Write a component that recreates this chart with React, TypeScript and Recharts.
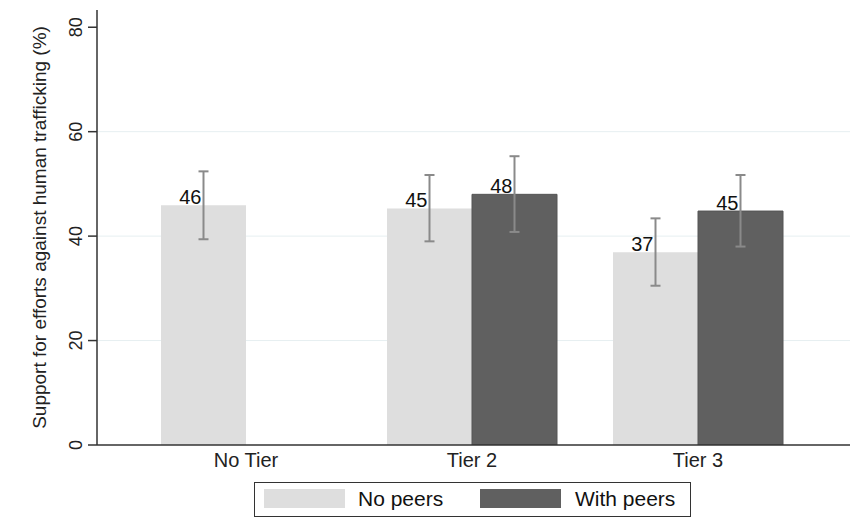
import React from 'react';
import { BarChart, Bar, XAxis, YAxis, ErrorBar, LabelList, Legend, CartesianGrid, Label } from 'recharts';

const categories = ['No Tier', 'Tier 2', 'Tier 3'];
const noPeers = [45.9, 45.3, 36.9];
const noPeersLow = [39.4, 39.0, 30.5];
const noPeersHigh = [52.4, 51.7, 43.4];
const withPeers = [null, 48.0, 44.8];
const withPeersLow = [null, 40.8, 38.0];
const withPeersHigh = [null, 55.3, 51.7];
const yTicks = [0, 20, 40, 60, 80];
const gridValues = [20, 40, 60];

const FONT = '"Liberation Sans", Arial, sans-serif';
const LIGHT = '#dedede';
const DARK = '#606060';

const data = categories.map((name, i) => ({
  name,
  noPeers: noPeers[i],
  noPeersErr: [noPeers[i] - noPeersLow[i], noPeersHigh[i] - noPeers[i]],
  withPeers: withPeers[i],
  withPeersErr:
    withPeers[i] == null ? null : [withPeers[i]! - withPeersLow[i]!, withPeersHigh[i]! - withPeers[i]!],
}));

const ValueLabel = (props: any) => {
  const { x, y, width, value } = props;
  if (value == null) return null;
  return (
    <text x={x + width / 2 - 2} y={y - 1} textAnchor="end" fontSize={20} fontFamily={FONT} fill="#111">
      {Math.round(value)}
    </text>
  );
};

const YTick = (props: any) => {
  const { y, payload } = props;
  return (
    <text x={82} y={y} transform={`rotate(-90, 82, ${y})`} textAnchor="middle" fontSize={18} fontFamily={FONT} fill="#222">
      {payload.value}
    </text>
  );
};

const LegendBox = (props: any) => {
  const items = props.payload || [];
  const swatchX = [9, 225];
  const textX = [103, 320];
  return (
    <div
      style={{
        position: 'relative',
        boxSizing: 'border-box',
        marginTop: 2,
        width: 437,
        height: 35,
        border: '1px solid #333',
        background: '#fff',
        fontFamily: FONT,
        fontSize: 21,
        color: '#111',
      }}
    >
      {items.map((it: any, i: number) => (
        <React.Fragment key={it.value}>
          <div
            style={{
              position: 'absolute',
              left: swatchX[i],
              top: 6,
              width: 81,
              height: 19,
              background: it.color,
            }}
          />
          <div style={{ position: 'absolute', left: textX[i], top: 5, lineHeight: '22px' }}>{it.value}</div>
        </React.Fragment>
      ))}
    </div>
  );
};

export default function App() {
  return (
    <div style={{ position: 'absolute', left: 0, top: 0, background: '#fff' }}>
      <BarChart
        width={864}
        height={530}
        data={data}
        margin={{ top: 10, right: 14, bottom: 0, left: 0 }}
        barGap={0}
        barSize={85}
      >
        <CartesianGrid vertical={false} horizontalValues={gridValues} stroke="#e6eff1" strokeWidth={1} />
        <XAxis
          dataKey="name"
          padding={{ left: 36, right: 39 }}
          height={35}
          tickLine={false}
          axisLine={{ stroke: '#333', strokeWidth: 1.5 }}
          tick={{ fontSize: 20, fontFamily: FONT, fill: '#222' }}
          interval={0}
        />
        <YAxis
          width={97}
          domain={[0, 83.3]}
          ticks={yTicks}
          tickSize={9}
          tickLine={{ stroke: '#333', strokeWidth: 1.5 }}
          axisLine={{ stroke: '#333', strokeWidth: 1.5 }}
          tick={<YTick />}
          allowDataOverflow
        >
          <Label
            content={(p: any) => {
              const vb = p.viewBox || {};
              const cy = (vb.y || 0) + (vb.height || 0) / 2;
              return (
                <text x={46} y={cy} transform={`rotate(-90, 46, ${cy})`} textAnchor="middle" fontSize={19} fontFamily={FONT} fill="#222">
                  Support for efforts against human trafficking (%)
                </text>
              );
            }}
          />
        </YAxis>
        <Legend
          verticalAlign="bottom"
          content={<LegendBox />}
          wrapperStyle={{ left: 254, width: 437, height: 50, bottom: 0 }}
        />
        <Bar dataKey="noPeers" name="No peers" fill={LIGHT} isAnimationActive={false}>
          <ErrorBar dataKey="noPeersErr" width={5} stroke="#8a8a8a" strokeWidth={2} direction="y" />
          <LabelList dataKey="noPeers" content={<ValueLabel />} />
        </Bar>
        <Bar dataKey="withPeers" name="With peers" fill={DARK} stroke="#555" strokeWidth={1} isAnimationActive={false}>
          <ErrorBar dataKey="withPeersErr" width={5} stroke="#8a8a8a" strokeWidth={2} direction="y" />
          <LabelList dataKey="withPeers" content={<ValueLabel />} />
        </Bar>
      </BarChart>
    </div>
  );
}
